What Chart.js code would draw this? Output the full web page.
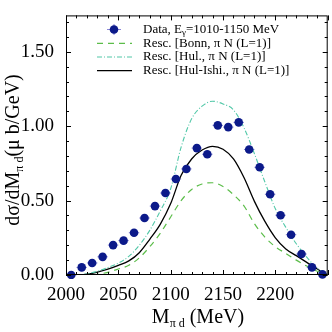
<!DOCTYPE html>
<html><head><meta charset="utf-8">
<script src="https://cdn.jsdelivr.net/npm/chart.js@4/dist/chart.umd.min.js"></script>
<style>html,body{margin:0;padding:0;background:#fff}#wrap{width:332px;height:332px}</style>
</head><body><div id="wrap"><canvas id="c" width="332" height="332"></canvas></div>
<script>
// ---- data ----
const massBins = [2005,2015,2025,2035,2045,2055,2065,2075,2085,2095,2105,2115,2125,2135,2145,2155,2165,2175,2185,2195,2205,2215,2225,2235,2245];
const dataValues = [0.00,0.051,0.081,0.122,0.201,0.231,0.284,0.383,0.463,0.551,0.645,0.713,0.853,0.812,1.006,0.994,1.026,0.844,0.724,0.543,0.402,0.271,0.141,0.051,0.004];
const massErr = [5,5,5,5,5,5,5,5,5,5,5,5,5,5,5,5,5,5,5,5,5,5,5,5,5];
const valueErr = [0.02,0.02,0.02,0.02,0.02,0.02,0.02,0.02,0.02,0.02,0.02,0.02,0.02,0.02,0.02,0.02,0.02,0.02,0.02,0.02,0.02,0.02,0.02,0.02,0.02];
const curveMass = [2015,2020,2030,2040,2050,2060,2070,2080,2090,2100,2110,2120,2130,2140,2150,2160,2170,2180,2190,2200,2210,2220,2230,2240,2250];
const bonnValues = [0.0,0.0,0.005,0.018,0.04,0.065,0.115,0.19,0.28,0.39,0.5,0.575,0.612,0.62,0.595,0.54,0.465,0.345,0.255,0.19,0.145,0.1,0.06,0.025,0.0];
const hulValues = [0.0,0.008,0.025,0.05,0.08,0.125,0.2,0.3,0.43,0.58,0.86,1.05,1.135,1.168,1.15,1.11,0.99,0.815,0.625,0.445,0.32,0.21,0.12,0.045,0.0];
const hulIshiValues = [0.0,0.005,0.02,0.04,0.065,0.095,0.15,0.24,0.34,0.48,0.67,0.78,0.84,0.865,0.845,0.78,0.655,0.495,0.36,0.25,0.175,0.13,0.085,0.04,0.0];
const xTickValues = [2000,2050,2100,2150,2200];
const yTickValues = [0,0.5,1.0,1.5];
const seriesLabels = ['Data, E_γ=1010-1150 MeV','Resc. [Bonn, π N (L=1)]','Resc. [Hul., π N (L=1)]','Resc. [Hul-Ishi., π N (L=1)]'];

const SERIF = '"Liberation Serif", "DejaVu Serif", serif';
const NAVY = '#0c1a8a', ERR = '#8a86d8', GREEN = '#5cbd4a', TEAL = '#52c8a8';

function drawRich(ctx, parts, x, y, align) {
  let w = 0;
  parts.forEach(p => { ctx.font = p[1] + 'px ' + SERIF; w += ctx.measureText(p[0]).width; });
  let cx = align === 'center' ? x - w / 2 : x;
  parts.forEach(p => { ctx.font = p[1] + 'px ' + SERIF; ctx.fillText(p[0], cx, y + (p[2] || 0)); cx += ctx.measureText(p[0]).width; });
}

const decor = {
  id: 'decor',
  beforeDatasetsDraw(chart) {
    const {ctx, scales: {x, y}} = chart;
    const ds = chart.data.datasets[0];
    ctx.save();
    ctx.strokeStyle = ERR; ctx.lineWidth = 1;
    ds.data.forEach((p, i) => {
      const px = x.getPixelForValue(p.x), py = y.getPixelForValue(p.y);
      ctx.beginPath();
      ctx.moveTo(x.getPixelForValue(p.x - ds.xErr[i]), py);
      ctx.lineTo(x.getPixelForValue(p.x + ds.xErr[i]), py);
      ctx.moveTo(px, y.getPixelForValue(Math.max(0, p.y - ds.yErr[i])));
      ctx.lineTo(px, y.getPixelForValue(p.y + ds.yErr[i]));
      ctx.stroke();
    });
    ctx.restore();
  },
  afterDraw(chart) {
    const {ctx, chartArea: a, scales: {x, y}} = chart;
    ctx.save();
    ctx.strokeStyle = '#000'; ctx.lineWidth = 1;
    ctx.strokeRect(a.left + 0.5, a.top + 0.5, a.right - a.left - 1, a.bottom - a.top - 1);
    ctx.beginPath();
    for (let v = x.min; v <= x.max + 0.01; v += 10) {
      const px = Math.round(x.getPixelForValue(v)) + 0.5;
      const len = (Math.round(v) % 50 === 0) ? 5 : 3;
      ctx.moveTo(px, a.bottom); ctx.lineTo(px, a.bottom - len);
      ctx.moveTo(px, a.top); ctx.lineTo(px, a.top + len);
    }
    for (let k = 0; k <= 17; k++) {
      const v = k / 10;
      const py = Math.round(y.getPixelForValue(v)) + 0.5;
      const len = (k % 5 === 0) ? 5 : 3;
      ctx.moveTo(a.left, py); ctx.lineTo(a.left + len, py);
      ctx.moveTo(a.right, py); ctx.lineTo(a.right - len, py);
    }
    ctx.stroke();

    ctx.fillStyle = '#000';
    ctx.textBaseline = 'alphabetic';
    drawRich(ctx, [['M', 20], ['π d', 12, 4], [' (MeV)', 20]], 198, 323, 'center');
    ctx.save();
    ctx.translate(19, 150);
    ctx.rotate(-Math.PI / 2);
    drawRich(ctx, [['dσ/dM', 20], ['π d', 12, 4], ['(μ b/GeV)', 20]], 0, 0, 'center');
    ctx.restore();

    const rows = [29.5, 43.3, 57, 70.7];
    const lx0 = 97, lx1 = 132, tx = 143;
    const dss = chart.data.datasets;
    ctx.textBaseline = 'middle';
    ctx.strokeStyle = ERR; ctx.lineWidth = 1;
    ctx.beginPath();
    ctx.moveTo(107, rows[0]); ctx.lineTo(121, rows[0]);
    ctx.moveTo(114, rows[0] - 5.5); ctx.lineTo(114, rows[0] + 5.5);
    ctx.stroke();
    ctx.fillStyle = dss[0].backgroundColor;
    ctx.beginPath(); ctx.arc(114, rows[0], dss[0].pointRadius, 0, Math.PI * 2); ctx.fill();
    for (let i = 1; i < 4; i++) {
      ctx.strokeStyle = dss[i].borderColor; ctx.lineWidth = dss[i].borderWidth;
      ctx.setLineDash(dss[i].borderDash || []);
      ctx.beginPath(); ctx.moveTo(lx0, rows[i]); ctx.lineTo(lx1, rows[i]); ctx.stroke();
    }
    ctx.setLineDash([]);
    ctx.fillStyle = '#000';
    const fs = 13;
    const lab0 = dss[0].label.split('_γ');
    drawRich(ctx, [[lab0[0], fs], ['γ', 9, 3], [lab0[1], fs]], tx, rows[0], 'left');
    for (let i = 1; i < 4; i++) drawRich(ctx, [[dss[i].label, fs]], tx, rows[i], 'left');
    ctx.restore();
  }
};

new Chart(document.getElementById('c'), {
  type: 'scatter',
  data: {
    datasets: [
      { label: seriesLabels[0], data: massBins.map((m, i) => ({x: m, y: dataValues[i]})), xErr: massErr, yErr: valueErr,
        backgroundColor: NAVY, borderColor: NAVY, pointRadius: 4.3, pointBorderWidth: 0, showLine: false, clip: 4 },
      { label: seriesLabels[1], data: curveMass.map((m, i) => ({x: m, y: bonnValues[i]})), showLine: true,
        borderColor: GREEN, borderWidth: 1.2, borderDash: [6, 5], pointRadius: 0, cubicInterpolationMode: 'monotone' },
      { label: seriesLabels[2], data: curveMass.map((m, i) => ({x: m, y: hulValues[i]})), showLine: true,
        borderColor: TEAL, borderWidth: 1.1, borderDash: [5, 2, 1, 2], pointRadius: 0, cubicInterpolationMode: 'monotone' },
      { label: seriesLabels[3], data: curveMass.map((m, i) => ({x: m, y: hulIshiValues[i]})), showLine: true,
        borderColor: '#000', borderWidth: 1.3, pointRadius: 0, cubicInterpolationMode: 'monotone' }
    ]
  },
  options: {
    responsive: false, animation: false, devicePixelRatio: 1,
    layout: {padding: {top: 3, right: 3, left: 0, bottom: 0}},
    plugins: {legend: {display: false}, tooltip: {enabled: false}},
    scales: {
      x: {
        type: 'linear', min: 2000, max: 2250,
        grid: {display: false}, border: {display: false},
        afterBuildTicks: s => { s.ticks = xTickValues.map(v => ({value: v})); },
        afterFit: s => { s.height = 57; },
        ticks: {font: {family: SERIF, size: 19}, color: '#000', padding: 1, maxRotation: 0, autoSkip: false,
          callback: v => String(v)}
      },
      y: {
        type: 'linear', min: 0, max: 1.745,
        grid: {display: false}, border: {display: false},
        afterBuildTicks: s => { s.ticks = yTickValues.map(v => ({value: v})); },
        afterFit: s => { s.width = 66; },
        ticks: {font: {family: SERIF, size: 19}, color: '#000', padding: 4, callback: v => Number(v).toFixed(2)}
      }
    }
  },
  plugins: [decor]
});
</script></body></html>
